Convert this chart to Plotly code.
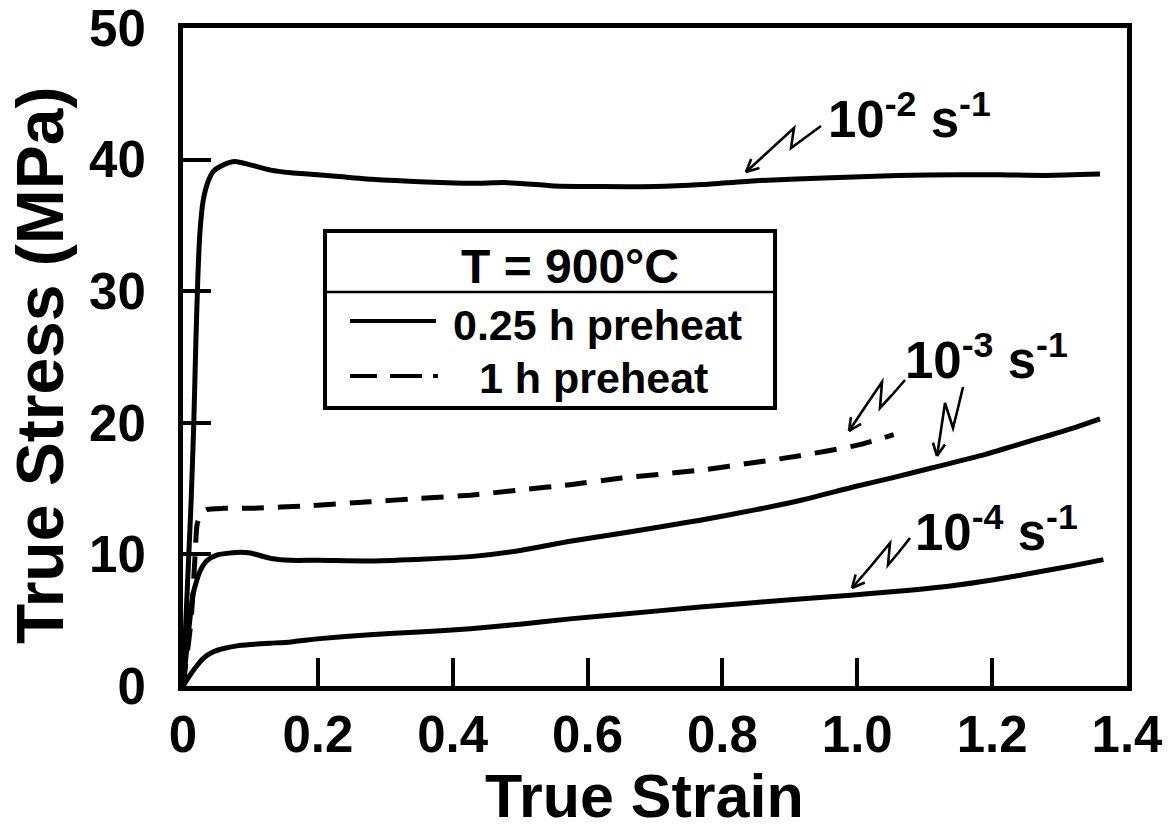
import plotly.graph_objects as go
import math

# ---------------- data ----------------
strain_2 = [0, 0.006, 0.012, 0.016, 0.019, 0.022, 0.025, 0.03, 0.037, 0.045, 0.06, 0.077, 0.1, 0.13,
            0.16, 0.2, 0.28, 0.36, 0.43, 0.48, 0.55, 0.62, 0.7, 0.77, 0.85, 0.95, 1.06, 1.15, 1.21, 1.28, 1.36]
stress_2 = [0, 7, 14, 20, 26, 31, 34.4, 36.9, 38.3, 39.1, 39.6, 39.85, 39.6, 39.2,
            39.0, 38.85, 38.5, 38.3, 38.2, 38.25, 38.0, 37.95, 37.95, 38.1, 38.4, 38.6, 38.8, 38.85, 38.85, 38.8, 38.9]

strain_3 = [0, 0.008, 0.015, 0.025, 0.035, 0.05, 0.08, 0.1, 0.13, 0.16, 0.2, 0.28, 0.36, 0.43, 0.5,
            0.574, 0.65, 0.72, 0.767, 0.85, 0.915, 1.0, 1.05, 1.113, 1.19, 1.262, 1.32, 1.36]
stress_3 = [0, 4, 7, 8.7, 9.5, 9.95, 10.15, 10.1, 9.7, 9.55, 9.55, 9.5, 9.65, 9.85, 10.3,
            11.0, 11.6, 12.2, 12.6, 13.4, 14.1, 15.2, 15.8, 16.6, 17.6, 18.7, 19.6, 20.3]

strain_3d = [0, 0.012, 0.018, 0.021, 0.027, 0.035, 0.06, 0.1, 0.188, 0.277, 0.35, 0.426, 0.5,
             0.574, 0.65, 0.767, 0.85, 0.915, 1.0, 1.054]
stress_3d = [0, 5, 10, 12.3, 13.1, 13.4, 13.5, 13.5, 13.7, 14.0, 14.25, 14.5, 14.9,
             15.3, 15.8, 16.4, 17.0, 17.5, 18.3, 19.1]

strain_4 = [0, 0.01, 0.02, 0.03, 0.045, 0.06, 0.08, 0.1, 0.129, 0.16, 0.203, 0.277, 0.35, 0.426, 0.5,
            0.574, 0.65, 0.767, 0.85, 0.99, 1.06, 1.138, 1.2, 1.262, 1.32, 1.365]
stress_4 = [0, 0.8, 1.5, 2.1, 2.6, 2.85, 3.05, 3.15, 3.25, 3.35, 3.6, 3.9, 4.1, 4.35, 4.7,
            5.1, 5.45, 6.0, 6.35, 6.9, 7.2, 7.6, 8.05, 8.6, 9.15, 9.6]

x_tickvals = [0, 0.2, 0.4, 0.6, 0.8, 1.0, 1.2, 1.4]
x_ticktext = ["0", "0.2", "0.4", "0.6", "0.8", "1.0", "1.2", "1.4"]
y_tickvals = [0, 10, 20, 30, 40, 50]
y_ticktext = ["0", "10", "20", "30", "40", "50"]

x_title = "True Strain"
y_title = "True Stress (MPa)"

# ---------------- layout geometry ----------------
W, H = 1174, 832
L, R, T, B = 183, 47, 28, 146
X0, X1 = 0, 1.4
Y0, Y1 = 0, 50
pw = W - L - R
ph = H - T - B


def dx(px):
    return X0 + (px - L) / pw * (X1 - X0)


def dy(py):
    return Y0 + (T + ph - py) / ph * (Y1 - Y0)


FONT = "Liberation Sans, Arial, sans-serif"
LW = 5

fig = go.Figure()
common = dict(mode="lines", line_shape="spline", showlegend=False, hoverinfo="skip")
fig.add_trace(go.Scatter(x=strain_2, y=stress_2, line=dict(color="black", width=LW, smoothing=0.6), **common))
fig.add_trace(go.Scatter(x=strain_3, y=stress_3, line=dict(color="black", width=LW, smoothing=0.6), **common))
fig.add_trace(go.Scatter(x=strain_3d, y=stress_3d,
                         line=dict(color="black", width=LW, smoothing=0.6, dash="22px,14px"), **common))
fig.add_trace(go.Scatter(x=strain_4, y=stress_4, line=dict(color="black", width=LW, smoothing=0.6), **common))

shapes = []
annotations = []


def squiggle(pts):
    # pts: pixel points of the hand-drawn pointer; last one is the arrow tip
    path = "M {} {}".format(dx(pts[0][0]), dy(pts[0][1]))
    for (x, y) in pts[1:]:
        path += " L {} {}".format(dx(x), dy(y))
    shapes.append(dict(type="path", xref="x", yref="y", path=path,
                       line=dict(color="black", width=2.6)))
    (xa, ya), (xb, yb) = pts[-2], pts[-1]
    ang = math.atan2(ya - yb, xa - xb)
    for s in (-0.45, 0.45):
        hx = xb + 14 * math.cos(ang + s)
        hy = yb + 14 * math.sin(ang + s)
        shapes.append(dict(type="line", xref="x", yref="y", x0=dx(xb), y0=dy(yb), x1=dx(hx), y1=dy(hy),
                           line=dict(color="black", width=2.6)))


squiggle([(821, 126), (806, 137), (791, 148), (794, 128), (770, 150), (746, 172)])
squiggle([(905, 380), (892, 395), (880, 408), (882, 382), (865, 407), (849, 431)])
squiggle([(963, 387), (958, 408), (953, 428), (945, 403), (941, 430), (937, 456)])
squiggle([(910, 538), (899, 552), (888, 565), (890, 543), (871, 566), (852, 588)])


def label(text, px, py, size=50, xanchor="left", yanchor="middle", angle=0):
    # positioned in paper coordinates converted from pixels
    annotations.append(dict(text=text, x=(px - L) / pw, y=(T + ph - py) / ph,
                            xref="paper", yref="paper", showarrow=False,
                            xanchor=xanchor, yanchor=yanchor, textangle=angle,
                            font=dict(family=FONT, size=size, color="black", weight="bold")))


label("10<sup>-2</sup> s<sup>-1</sup>", 826, 116, size=51)
label("10<sup>-3</sup> s<sup>-1</sup>", 903, 357, size=51)
label("10<sup>-4</sup> s<sup>-1</sup>", 913, 529, size=51)

# ---------- legend box ----------
shapes.append(dict(type="rect", xref="x", yref="y", x0=dx(325), x1=dx(775), y0=dy(231), y1=dy(408),
                   line=dict(color="black", width=4), fillcolor="white", layer="above"))
shapes.append(dict(type="line", xref="x", yref="y", x0=dx(325), x1=dx(775), y0=dy(292), y1=dy(292),
                   line=dict(color="black", width=2.5)))
shapes.append(dict(type="line", xref="x", yref="y", x0=dx(350), x1=dx(436), y0=dy(321), y1=dy(321),
                   line=dict(color="black", width=4)))
for a, b in [(350, 377), (390, 422), (433, 438)]:
    shapes.append(dict(type="line", xref="x", yref="y", x0=dx(a), x1=dx(b), y0=dy(376), y1=dy(376),
                       line=dict(color="black", width=4)))
label("T = 900°C", 459, 266, size=48)
label("0.25 h preheat", 451, 325, size=43)
label("1 h preheat", 477, 378, size=43)

# ---------- axis titles ----------
label(x_title, 644, 832, size=61, xanchor="center", yanchor="bottom")
label(y_title, 40, 365, size=66, xanchor="center", angle=-90)

fig.update_layout(
    width=W, height=H,
    margin=dict(l=L, r=R, t=T, b=B, autoexpand=False),
    paper_bgcolor="white", plot_bgcolor="white",
    shapes=shapes, annotations=annotations,
    font=dict(family=FONT, color="black", weight="bold"),
)
fig.update_xaxes(range=[X0, X1], tickvals=x_tickvals, ticktext=x_ticktext,
                 ticks="inside", ticklen=28, tickwidth=3.5, tickcolor="black",
                 showline=True, linewidth=5, linecolor="black", mirror=True,
                 showgrid=False, zeroline=False, ticklabeloverflow="allow",
                 tickfont=dict(family=FONT, size=51, color="black", weight="bold"),
                 ticklabelstandoff=0)
fig.update_yaxes(range=[Y0, Y1], tickvals=y_tickvals, ticktext=y_ticktext,
                 ticks="inside", ticklen=28, tickwidth=3.5, tickcolor="black",
                 showline=True, linewidth=5, linecolor="black", mirror=True,
                 showgrid=False, zeroline=False, ticklabeloverflow="allow",
                 tickfont=dict(family=FONT, size=51, color="black", weight="bold"),
                 ticklabelstandoff=22)

fig.write_html("out.html")
